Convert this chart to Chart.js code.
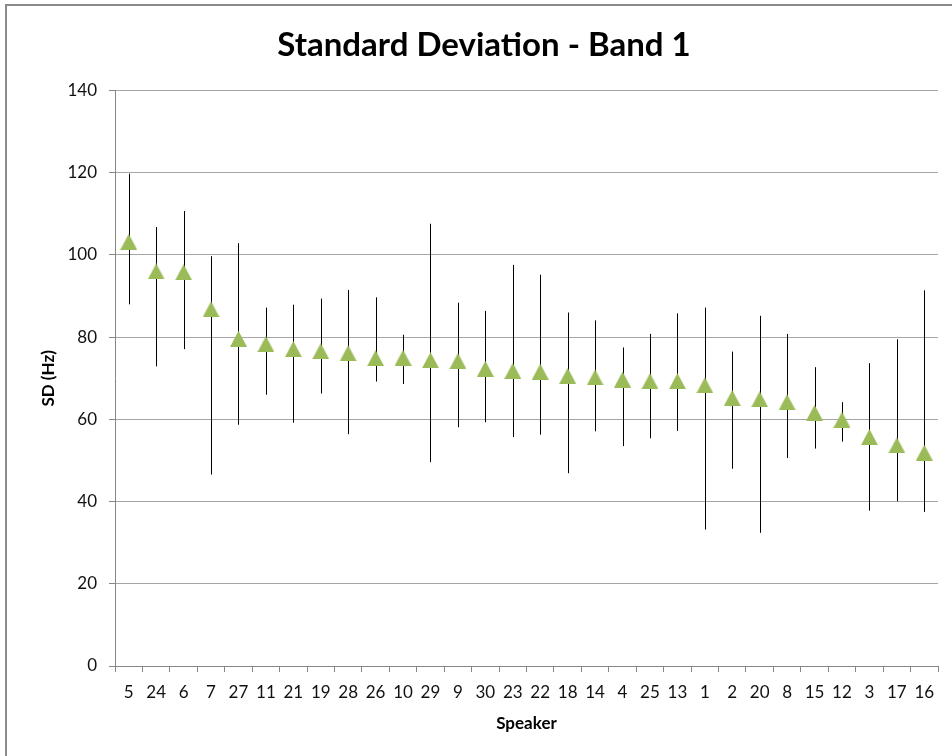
<!DOCTYPE html>
<html>
<head>
<meta charset="utf-8">
<script src="https://cdn.jsdelivr.net/npm/chart.js@4.4.1/dist/chart.umd.min.js"></script>
<style>
  html, body { margin: 0; padding: 0; background: #fff; overflow: hidden; }
  #wrap { position: relative; width: 952px; height: 756px; }
  #frame { position: absolute; left: 5px; top: 4px; width: 980px; height: 780px; border: 2px solid #8a8a8a; box-sizing: border-box; }
  #sd-chart { position: absolute; left: 0; top: 0; }
</style>
</head>
<body>
<div id="wrap">
  <div id="frame"></div>
  <canvas id="sd-chart" width="952" height="756"></canvas>
</div>
<script>
// speakers sorted by mean SD, band 1
var speakers = ['5', '24', '6', '7', '27', '11', '21', '19', '28', '26', '10', '29', '9', '30', '23',
                '22', '18', '14', '4', '25', '13', '1', '2', '20', '8', '15', '12', '3', '17', '16'];
var sdMean = [103.2, 96.0, 95.8, 86.8, 79.6, 78.3, 77.1, 76.6, 76.1, 74.9, 75.0, 74.4, 74.2, 72.3, 71.8,
              71.6, 70.6, 70.2, 69.7, 69.3, 69.3, 68.3, 65.2, 64.9, 64.2, 61.6, 59.9, 55.7, 53.7, 51.9];
var sdHigh = [119.8, 106.8, 110.7, 99.7, 102.9, 87.2, 87.9, 89.4, 91.5, 89.7, 80.6, 107.6, 88.4, 86.4, 97.6,
              95.2, 86.0, 84.1, 77.5, 80.8, 85.8, 87.2, 76.5, 85.2, 80.8, 72.7, 64.2, 73.7, 79.5, 91.4];
var sdLow = [88.0, 72.9, 77.1, 46.6, 58.7, 66.0, 59.2, 66.3, 56.4, 69.2, 68.6, 49.6, 58.1, 59.3, 55.7,
             56.3, 46.9, 57.1, 53.5, 55.4, 57.2, 33.2, 48.0, 32.4, 50.6, 52.9, 54.6, 37.8, 40.1, 37.5];
var yTicks = [0, 20, 40, 60, 80, 100, 120, 140];

var axisGrey = '#868686';
var textFont = 'Lato, "Open Sans", sans-serif';

// triangle marker, centred on its bounding box
var tri = document.createElement('canvas');
tri.width = 17; tri.height = 16;
var t = tri.getContext('2d');
t.fillStyle = '#9BBB59';
t.beginPath();
t.moveTo(8.5, 0);
t.lineTo(17, 16);
t.lineTo(0, 16);
t.closePath();
t.fill();

// vertical range bars, drawn under the markers
var errorBars = {
  id: 'errorBars',
  beforeDatasetsDraw: function (chart) {
    var ctx = chart.ctx, x = chart.scales.x, y = chart.scales.y;
    ctx.save();
    ctx.strokeStyle = '#000';
    ctx.lineWidth = 1;
    for (var i = 0; i < speakers.length; i++) {
      var px = Math.round(x.getPixelForValue(i)) + 0.5;
      ctx.beginPath();
      ctx.moveTo(px, y.getPixelForValue(sdHigh[i]));
      ctx.lineTo(px, y.getPixelForValue(sdLow[i]));
      ctx.stroke();
    }
    ctx.restore();
  }
};

var chart = new Chart(document.getElementById('sd-chart'), {
  type: 'line',
  data: {
    labels: speakers,
    datasets: [{
      label: 'SD',
      data: sdMean,
      showLine: false,
      pointStyle: tri,
      pointRadius: 9,
      backgroundColor: '#9BBB59',
      borderColor: '#9BBB59'
    }]
  },
  options: {
    responsive: false,
    animation: false,
    layout: { padding: { left: 30, right: 14, top: 0, bottom: 0 } },
    plugins: {
      legend: { display: false },
      tooltip: { enabled: false },
      title: {
        display: true,
        text: 'Standard Deviation - Band 1',
        color: '#000',
        font: { family: textFont, size: 33, weight: 'bold' },
        padding: { top: 26, bottom: 25 }
      }
    },
    scales: {
      x: {
        type: 'category',
        offset: true,
        grid: { offset: true, drawOnChartArea: false, drawTicks: true, tickLength: 6, color: axisGrey },
        border: { color: axisGrey },
        ticks: { color: '#111', padding: 10, autoSkip: false, maxRotation: 0, font: { family: textFont, size: 17 } },
        title: {
          display: true,
          text: 'Speaker',
          color: '#000',
          font: { family: textFont, size: 17, weight: 'bold' },
          padding: { top: 0, bottom: 22 }
        },
        afterFit: function (s) { s.height = 90; }
      },
      y: {
        min: 0,
        max: 140,
        afterBuildTicks: function (s) { s.ticks = yTicks.map(function (v) { return { value: v }; }); },
        grid: { color: '#a6a6a6', tickLength: 6, tickColor: axisGrey },
        border: { color: axisGrey },
        ticks: { color: '#111', padding: 12, font: { family: textFont, size: 17 } },
        title: {
          display: true,
          text: 'SD (Hz)',
          color: '#000',
          font: { family: textFont, size: 17, weight: 'bold' },
          padding: { top: 8, bottom: 0 }
        },
        afterFit: function (s) { s.width = 85; }
      }
    }
  },
  plugins: [errorBars]
});
</script>
</body>
</html>
